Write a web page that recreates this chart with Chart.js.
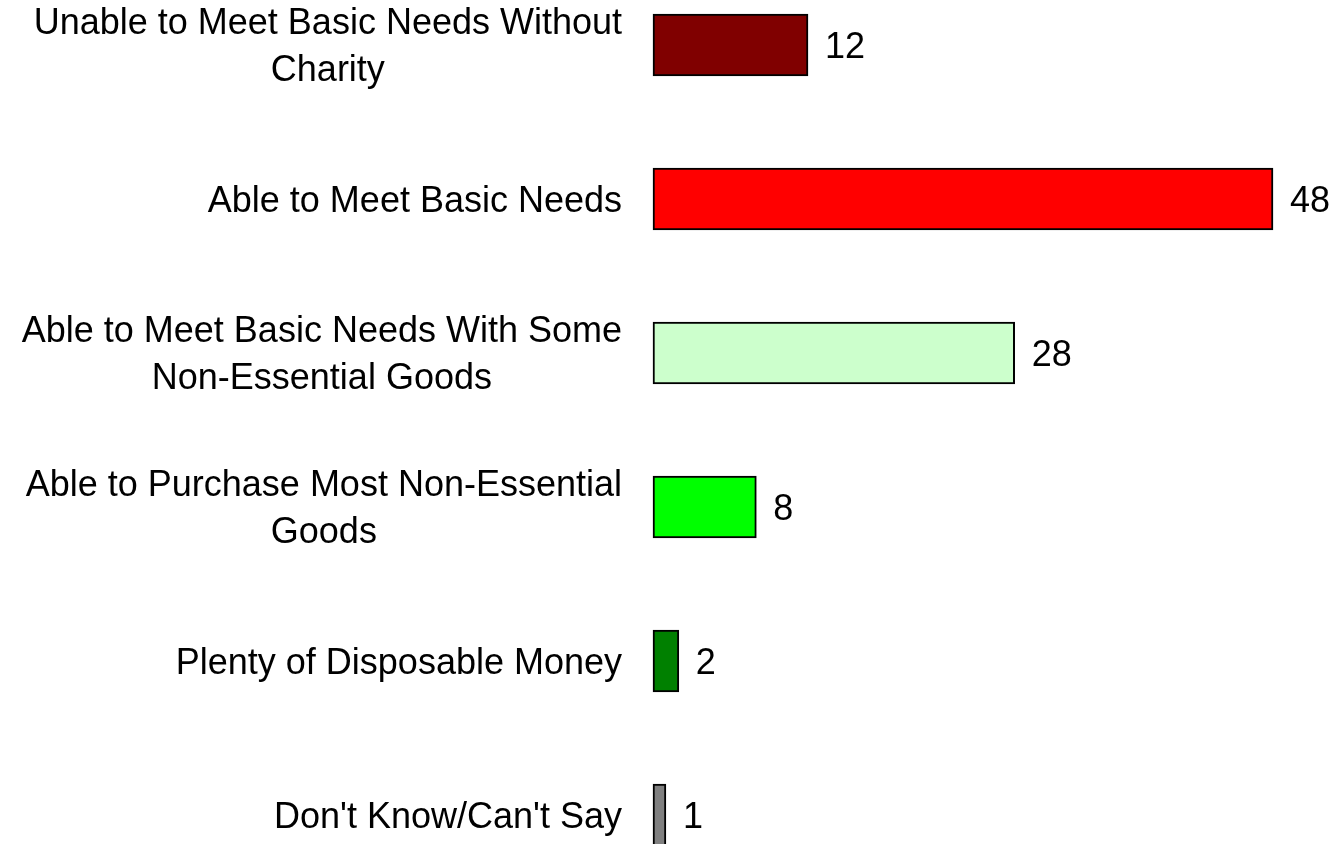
<!DOCTYPE html>
<html>
<head>
<meta charset="utf-8">
<title>Household financial situation</title>
<script src="https://cdn.jsdelivr.net/npm/chart.js@4/dist/chart.umd.min.js"></script>
<style>
  html, body { margin: 0; padding: 0; background: #ffffff; }
  #wrap { width: 1334px; height: 844px; position: relative; }
</style>
</head>
<body>
<div id="wrap"><canvas id="chart"></canvas></div>
<script>
const categories = [
  ['Unable to Meet Basic Needs Without', 'Charity'],
  ['Able to Meet Basic Needs'],
  ['Able to Meet Basic Needs With Some', 'Non-Essential Goods'],
  ['Able to Purchase Most Non-Essential', 'Goods'],
  ['Plenty of Disposable Money'],
  ["Don't Know/Can't Say"]
];
const values = [12, 48, 28, 8, 2, 1];
const barColors = ['#800000', '#ff0000', '#ccffcc', '#00ff00', '#008000', '#808080'];

const FONT = '36px "Liberation Sans", Arial, sans-serif';
const CAP_HALF = 12.5; // half the cap height at 36px, to centre text on a row

// category labels: block right-aligned next to the bars, lines centred within the block
const categoryLabels = {
  id: 'categoryLabels',
  afterDraw(chart) {
    const ctx = chart.ctx;
    const y = chart.scales.y;
    const right = chart.chartArea.left - 31;
    const lineH = 47;
    ctx.save();
    ctx.font = FONT;
    ctx.fillStyle = '#000000';
    ctx.textAlign = 'center';
    ctx.textBaseline = 'alphabetic';
    categories.forEach((lines, i) => {
      const cy = y.getPixelForValue(i);
      const maxW = Math.max(...lines.map(l => ctx.measureText(l).width));
      const cx = right - maxW / 2;
      lines.forEach((line, k) => {
        ctx.fillText(line, cx, cy + (k - (lines.length - 1) / 2) * lineH + CAP_HALF);
      });
    });
    ctx.restore();
  }
};

// value labels to the right of each bar
const valueLabels = {
  id: 'valueLabels',
  afterDatasetsDraw(chart) {
    const ctx = chart.ctx;
    const meta = chart.getDatasetMeta(0);
    ctx.save();
    ctx.font = FONT;
    ctx.fillStyle = '#000000';
    ctx.textAlign = 'left';
    ctx.textBaseline = 'alphabetic';
    meta.data.forEach((bar, i) => {
      ctx.fillText(String(values[i]), bar.x + 17, bar.y + CAP_HALF);
    });
    ctx.restore();
  }
};

new Chart(document.getElementById('chart'), {
  type: 'bar',
  data: {
    labels: categories,
    datasets: [{
      data: values,
      backgroundColor: barColors,
      borderColor: '#000000',
      borderWidth: 2,
      borderSkipped: false,
      barThickness: 62,
      clip: false
    }]
  },
  options: {
    indexAxis: 'y',
    responsive: true,
    maintainAspectRatio: false,
    animation: false,
    devicePixelRatio: 1,
    layout: { padding: { left: 653, right: 61, top: 45, bottom: 29 } },
    plugins: {
      legend: { display: false },
      tooltip: { enabled: false }
    },
    scales: {
      x: { display: false, min: 0, max: 48 },
      y: { display: false, offset: false, grid: { display: false } }
    }
  },
  plugins: [categoryLabels, valueLabels]
});
</script>
</body>
</html>
